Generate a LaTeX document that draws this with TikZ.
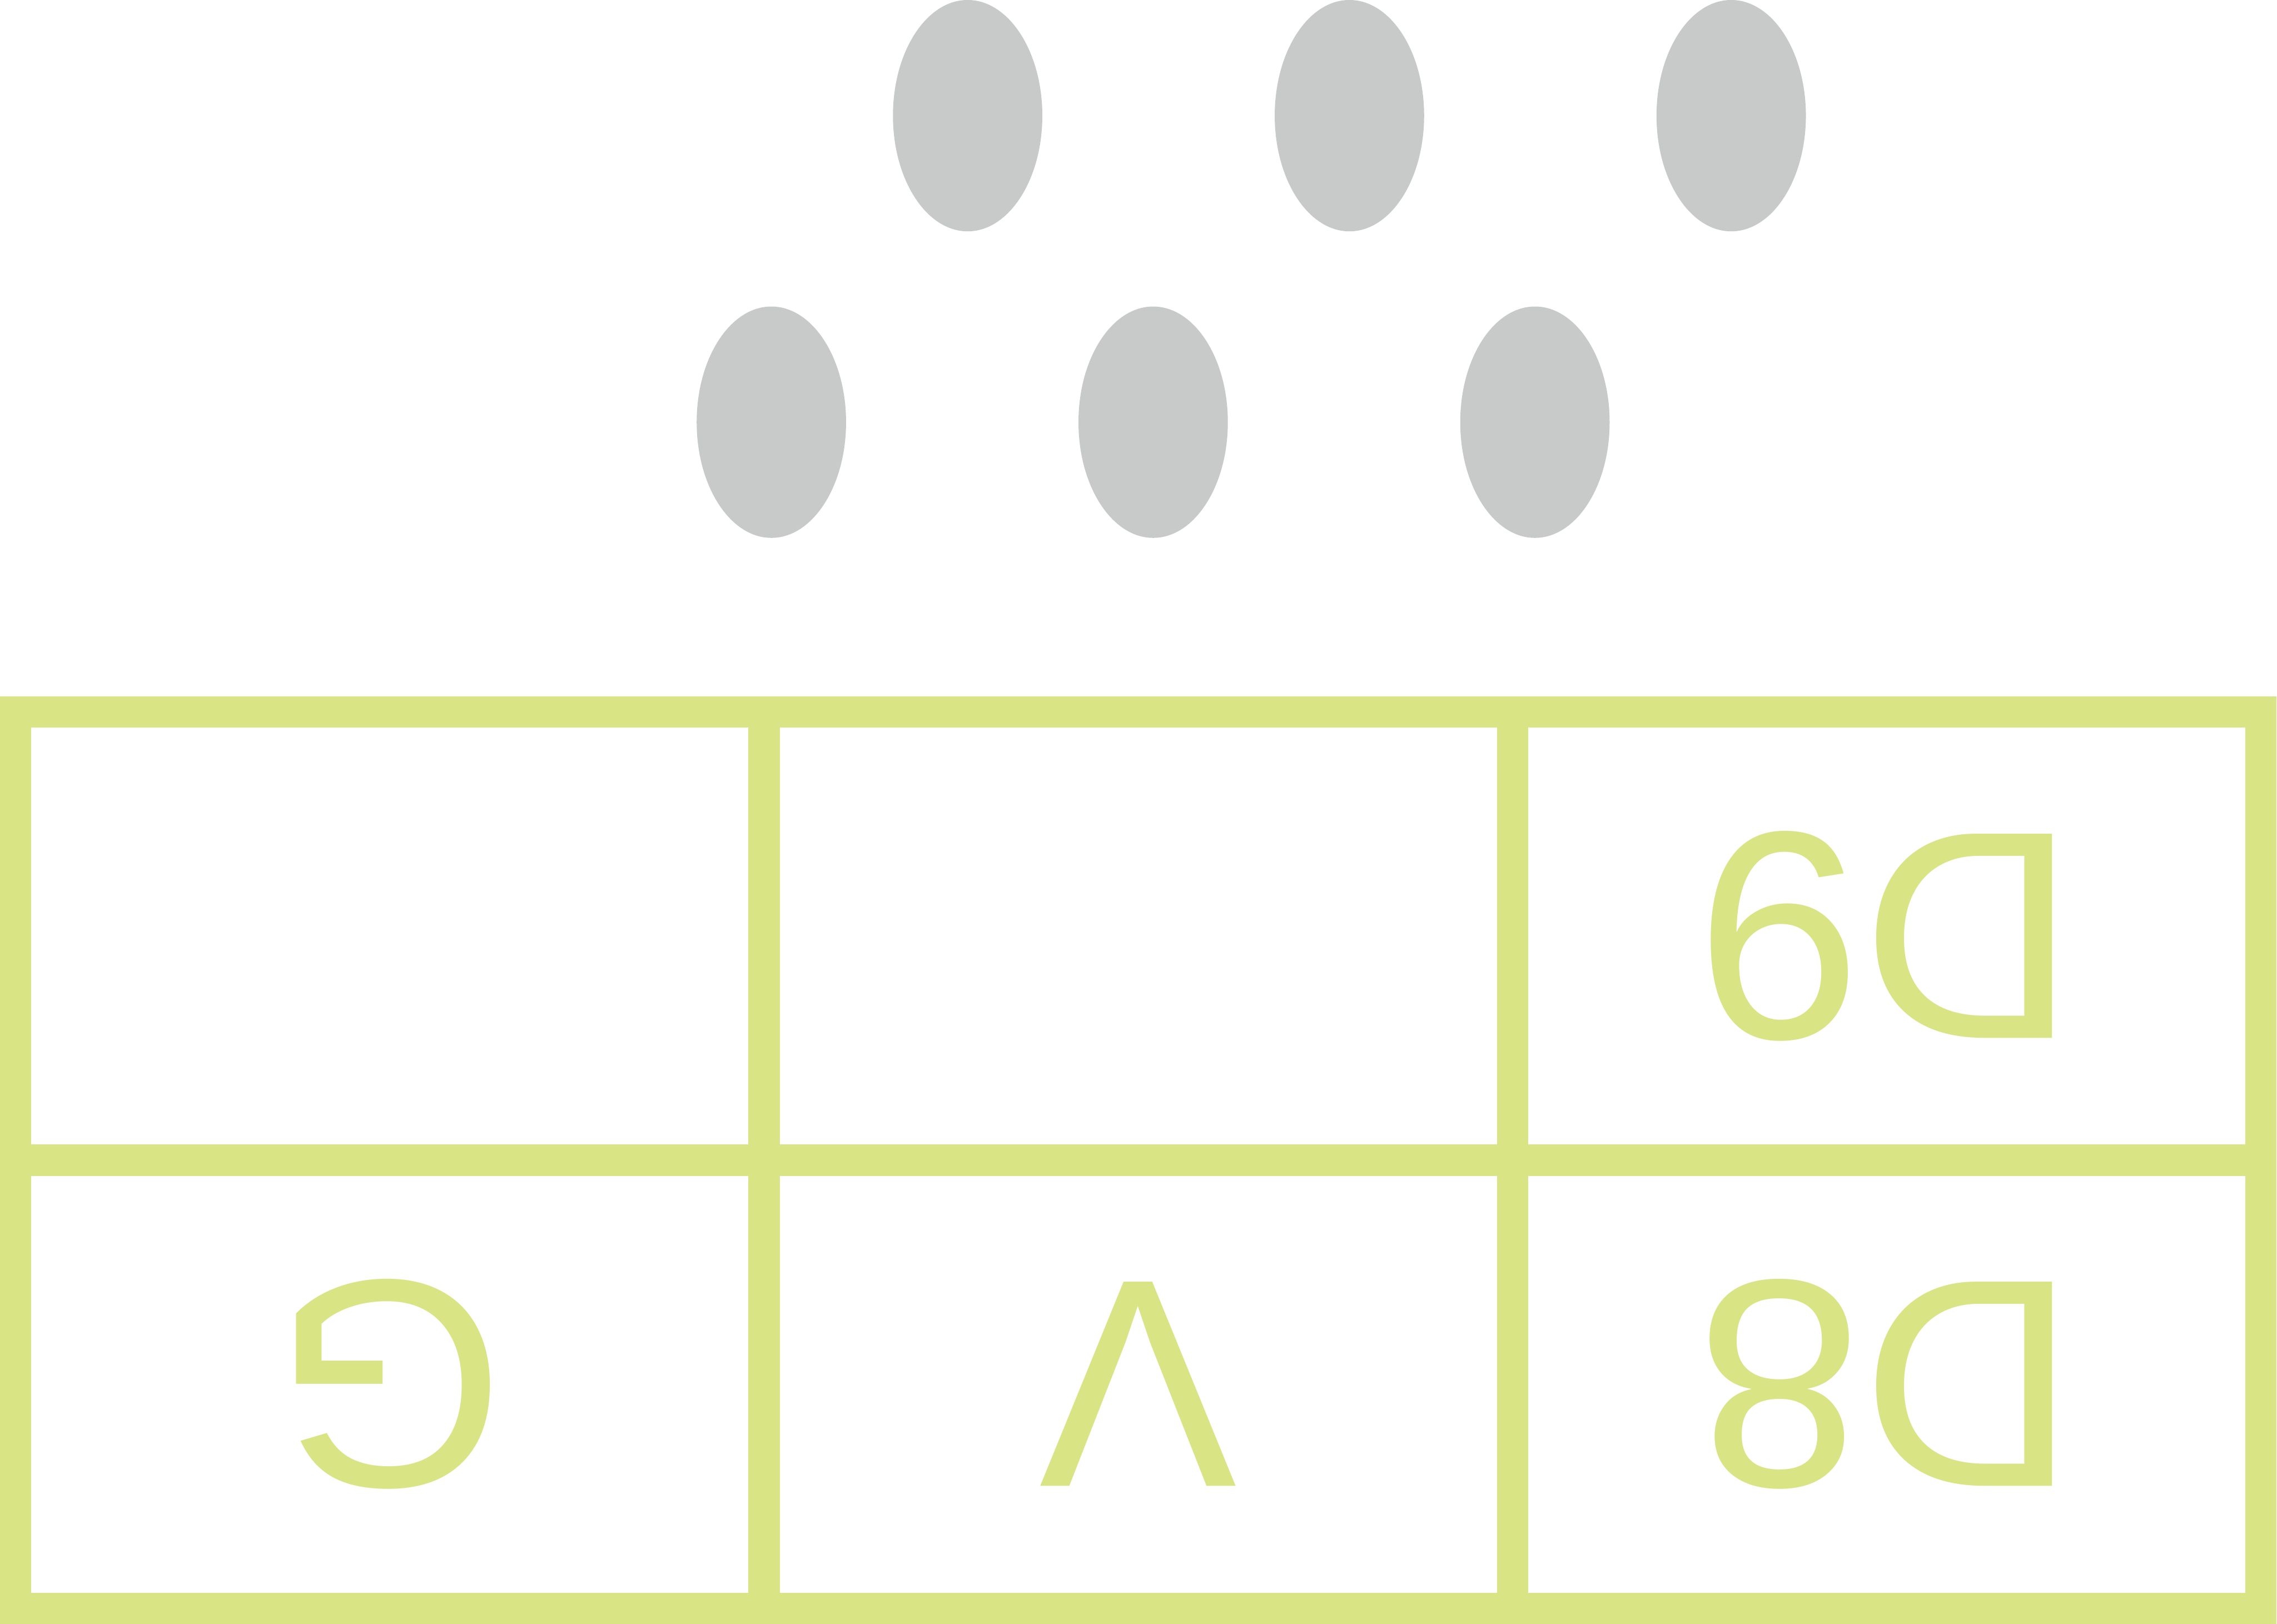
\documentclass[tikz,border=0pt]{standalone}
\usepackage{fontspec}
\setmainfont{Liberation Sans}
\usepackage{xcolor}
\usetikzlibrary{positioning,shapes.geometric}
\definecolor{gridgreen}{HTML}{D9E485}
\definecolor{pingray}{HTML}{C8C9C9}
\tikzset{
	pin/.style={ellipse,fill=pingray,inner sep=0pt,minimum width=3.06cm,minimum height=4.74cm},
	cell/.style={rectangle,draw=gridgreen,line width=0.64cm,inner sep=0pt,outer sep=0pt,
		minimum width=15.33cm,minimum height=9.18cm,text=gridgreen,rotate=180,
		font=\fontsize{173}{173}\selectfont}
}
\begin{document}
\begin{tikzpicture}
			\useasboundingbox (0,0) rectangle (46.64,33.27);
			\node[pin] (p1) at (19.82,30.90) {};
			\node[pin] (p2) at (27.64,30.90) {};
			\node[pin] (p3) at (35.46,30.90) {};
			\node[pin] (p4) at (15.80,24.62) {};
			\node[pin] (p5) at (23.62,24.62) {};
			\node[pin] (p6) at (31.44,24.62) {};
			\node[cell] (c11) at (7.985,14.09) {};
			\node[cell,left=0pt of c11] (c12) {};
			\node[cell,left=0pt of c12] (c13) {D9};
			\node[cell,above=0pt of c11] (c21) {G};
			\node[cell,left=0pt of c21] (c22) {V};
			\node[cell,left=0pt of c22] (c23) {D8};
		\end{tikzpicture}
\end{document}
